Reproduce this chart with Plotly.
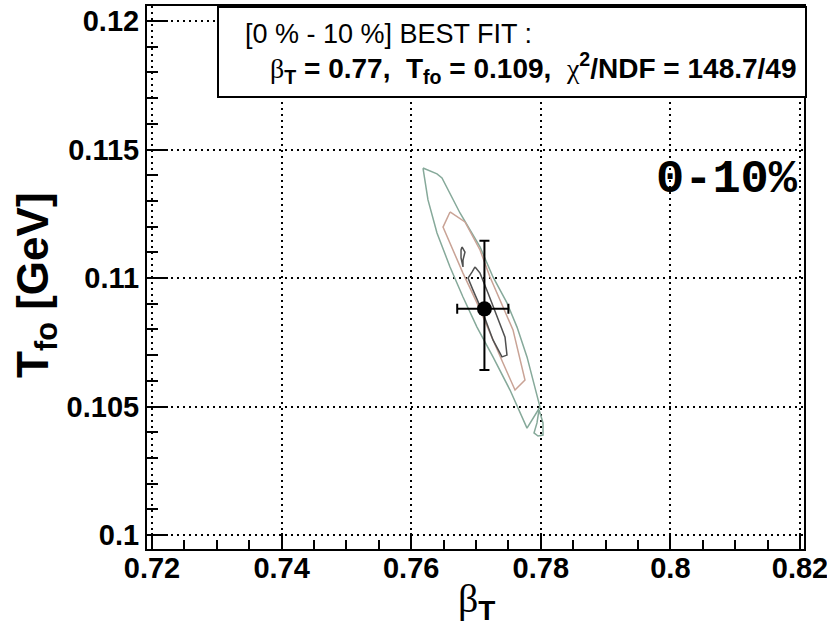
import plotly.graph_objects as go

# ---- fit result -------------------------------------------------------
centrality = "[0 % - 10 %]"
centrality_tag = "0-10%"
best_beta = 0.7713
best_T = 0.1088
beta_err_plus, beta_err_minus = 0.0037, 0.0042
T_err_plus, T_err_minus = 0.00265, 0.00238
chi2, ndf = 148.7, 49

# ---- confidence contours (beta_T, T_fo) --------------------------------
outer_beta = [0.76182, 0.76398, 0.76475, 0.76753, 0.77062, 0.77262, 0.77478, 0.77633,
              0.77787, 0.77880, 0.77988, 0.77787, 0.77525, 0.77262, 0.77015, 0.76799,
              0.76599, 0.76398, 0.76259, 0.76182]
outer_T = [0.11428, 0.11405, 0.11389, 0.11253, 0.11121, 0.11004, 0.10903, 0.10809,
           0.10693, 0.10603, 0.10498, 0.10416, 0.10564, 0.10693, 0.10809, 0.10926,
           0.11043, 0.11175, 0.11304, 0.11428]
outer_tail_beta = [0.77972, 0.77941, 0.77895, 0.77957, 0.78034, 0.78034, 0.77988, 0.77972]
outer_tail_T = [0.10486, 0.10436, 0.10397, 0.10385, 0.10389, 0.10436, 0.10475, 0.10486]

middle_beta = [0.76599, 0.76830, 0.77062, 0.77216, 0.77417, 0.77571, 0.77756, 0.77602,
               0.77417, 0.77216, 0.77015, 0.76799, 0.76645, 0.76491, 0.76599]
middle_T = [0.11257, 0.11218, 0.11109, 0.11004, 0.10887, 0.10798, 0.10603, 0.10564,
            0.10669, 0.10786, 0.10903, 0.11019, 0.11109, 0.11198, 0.11257]

inner_beta = [0.76985, 0.77062, 0.77185, 0.77324, 0.77448, 0.77478, 0.77401, 0.77262,
              0.77108, 0.76954, 0.76877, 0.76938, 0.76985]
inner_T = [0.11043, 0.11019, 0.10942, 0.10848, 0.10770, 0.10700, 0.10693, 0.10759,
           0.10864, 0.10953, 0.11000, 0.11023, 0.11043]
inner_small_beta = [0.76784, 0.76830, 0.76799, 0.76799, 0.76769, 0.76769, 0.76784]
inner_small_T = [0.11121, 0.11101, 0.11070, 0.11043, 0.11078, 0.11109, 0.11121]

# ---- axes -------------------------------------------------------------
x_tick_vals = [0.72, 0.74, 0.76, 0.78, 0.80, 0.82]
x_tick_text = ["0.72", "0.74", "0.76", "0.78", "0.8", "0.82"]
y_tick_vals = [0.100, 0.105, 0.110, 0.115, 0.120]
y_tick_text = ["0.1", "0.105", "0.11", "0.115", "0.12"]
x_range = [0.719228, 0.820617]
y_range = [0.099455, 0.120584]

W, H = 827, 629
ML, MR, MT, MB = 147, 23, 6, 80
PW, PH = W - ML - MR, H - MT - MB


def px(x):
    return (x - ML) / PW


def py(y):
    return (H - MB - y) / PH


colors = {"outer": "#86a99a", "middle": "#c9a396", "inner": "#505050"}

fig = go.Figure()

for bx, ty, c in [
    (outer_beta, outer_T, colors["outer"]),
    (outer_tail_beta, outer_tail_T, colors["outer"]),
    (middle_beta, middle_T, colors["middle"]),
    (inner_beta, inner_T, colors["inner"]),
    (inner_small_beta, inner_small_T, colors["inner"]),
]:
    fig.add_trace(go.Scatter(x=bx, y=ty, mode="lines",
                             line=dict(color=c, width=1.5), hoverinfo="skip",
                             showlegend=False))

fig.add_trace(go.Scatter(
    x=[best_beta], y=[best_T], mode="markers",
    marker=dict(color="black", size=15),
    error_x=dict(type="data", symmetric=False, array=[beta_err_plus],
                 arrayminus=[beta_err_minus], color="black", thickness=2, width=5),
    error_y=dict(type="data", symmetric=False, array=[T_err_plus],
                 arrayminus=[T_err_minus], color="black", thickness=2, width=5),
    showlegend=False))

tickfont = dict(family="Liberation Sans", size=29, color="black", weight="bold")
grid = dict(showgrid=True, gridcolor="black", gridwidth=1.5, griddash="2px,4px")

fig.update_xaxes(range=x_range, tickmode="array", tickvals=x_tick_vals,
                 ticktext=x_tick_text, ticks="inside", ticklen=16, tickwidth=1.5,
                 tickcolor="black", tickfont=tickfont, showline=True,
                 linecolor="black", linewidth=2, mirror=True, zeroline=False,
                 ticklabelstandoff=-8, ticklabeloverflow="allow", automargin=False,
                 minor=dict(tick0=0.72, dtick=0.005, ticks="inside", ticklen=9,
                            tickwidth=1.5, tickcolor="black", showgrid=False),
                 **grid)
fig.update_yaxes(range=y_range, tickmode="array", tickvals=y_tick_vals,
                 ticktext=y_tick_text, ticks="inside", ticklen=21, tickwidth=1.5,
                 tickcolor="black", tickfont=tickfont, showline=True,
                 linecolor="black", linewidth=2, mirror=True, zeroline=False,
                 ticklabeloverflow="allow", automargin=False,
                 minor=dict(tick0=0.1, dtick=0.001, ticks="inside", ticklen=11,
                            tickwidth=1.5, tickcolor="black", showgrid=False),
                 **grid)

greek = "<span style=\"font-family:'Liberation Serif'\">%s</span>"
line1 = f"{centrality} BEST FIT :"
line2 = (greek % "β" + "<sub><b>T</b></sub>"
         + f"<b> = {best_beta:.2f},  T<sub>fo</sub> = {best_T:.3f},  </b>"
         + greek % "χ" + "<sup><b>2</b></sup>"
         + f"<b>/NDF = {chi2:.1f}/{ndf}</b>")

annotations = [
    dict(x=px(243), y=py(34), text=line1, xanchor="left", yanchor="middle",
         font=dict(family="Liberation Sans", size=27, color="black")),
    dict(x=px(268), y=py(68), text=line2, xanchor="left", yanchor="middle",
         font=dict(family="Liberation Sans", size=28, color="black")),
    dict(x=px(654), y=py(180), text=f"<b>{centrality_tag}</b>", xanchor="left",
         yanchor="middle",
         font=dict(family="Liberation Mono", size=47, color="black")),
    dict(x=px(476), y=py(601), text=greek % "β" + "<sub><b>T</b></sub>",
         xanchor="center", yanchor="middle",
         font=dict(family="Liberation Sans", size=40, color="black")),
    dict(x=px(36), y=py(285), text="<b>T<sub>fo</sub> [GeV]</b>", textangle=-90,
         xanchor="center", yanchor="middle",
         font=dict(family="Liberation Sans", size=44, color="black")),
]
for a in annotations:
    a.update(xref="paper", yref="paper", showarrow=False)

fig.update_layout(
    width=W, height=H,
    margin=dict(l=ML, r=MR, t=MT, b=MB, pad=0, autoexpand=False),
    paper_bgcolor="white", plot_bgcolor="white",
    annotations=annotations,
    shapes=[dict(type="rect", xref="paper", yref="paper",
                 x0=px(218), x1=px(806), y0=py(97), y1=py(7),
                 line=dict(color="black", width=2), fillcolor="white",
                 layer="above")],
)

fig.write_html("out.html")
